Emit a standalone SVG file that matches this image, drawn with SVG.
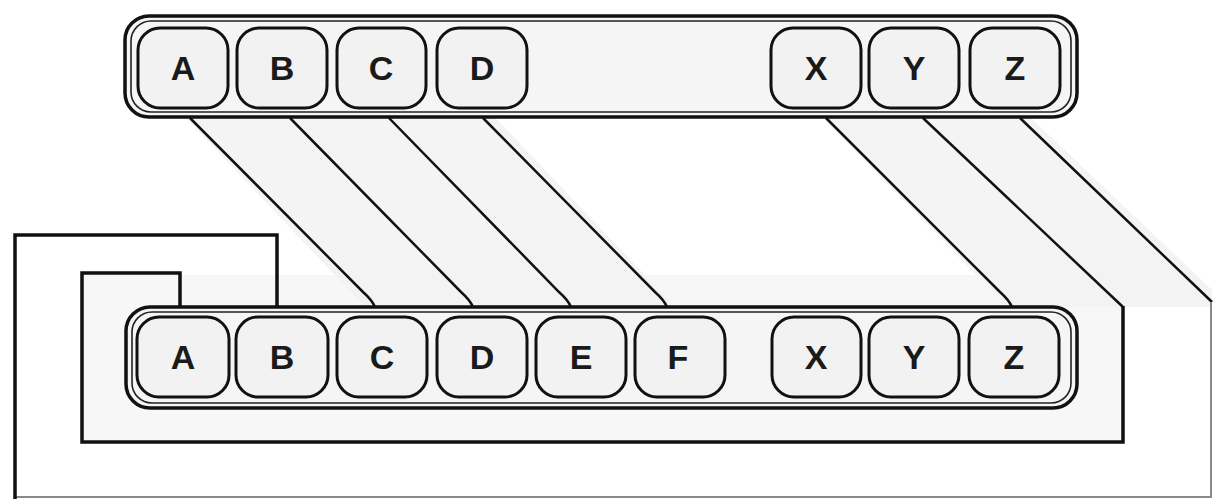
<svg xmlns="http://www.w3.org/2000/svg" width="1213" height="499" viewBox="0 0 1213 499">
  <style>
    .bar { fill: #f5f5f5; stroke: #111; stroke-width: 3.5; }
    .barin { fill: none; stroke: #222; stroke-width: 1.6; }
    .key { fill: #f2f2f2; stroke: #111; stroke-width: 3; }
    .lbl { font-family: "Liberation Sans", Arial, sans-serif; font-size: 34px; font-weight: bold; fill: #1a1a1a; text-anchor: middle; }
    .wire { fill: none; stroke: #111; stroke-width: 2.5; stroke-linejoin: miter; }
    .frame { fill: none; stroke: #111; stroke-width: 3.5; stroke-linejoin: miter; }
    .faint { fill: none; stroke: #8a8a8a; stroke-width: 2; }
  </style>
  <rect x="0" y="0" width="1213" height="499" fill="#ffffff"/>
  <g id="shading" fill="#efefef" stroke="none" opacity="0.7">
    <polygon points="185,117 495,117 675,307 365,307"/>
    <polygon points="822,117 1030,117 1212,290 1212,307 1008,307"/>
    <rect x="84" y="275" width="1037" height="165" opacity="0.6"/>
  </g>
  <g id="connectors">
    <path class="wire" d="M190,118 L363,292 Q372,300 375,307"/>
    <path class="wire" d="M290,118 L461,292 Q470,300 473,307"/>
    <path class="wire" d="M389,118 L559,292 Q568,300 571,307"/>
    <path class="wire" d="M483,118 L655,292 Q664,300 667,307"/>
    <path class="wire" d="M826,118 L1000,292 Q1009,300 1012,307"/>
    <path class="wire" d="M923,118 L1123,307"/>
    <path class="frame" d="M1123,306 L1123,442 L82,442 L82,273 L180,273 L180,307"/>
    <path class="wire" d="M1020,118 L1212,302"/>
    <path class="faint" d="M1211,302 L1211,497 L15,497"/>
    <path class="frame" d="M15,499 L15,235 L277,235 L277,307"/>
  </g>
  <g id="top-connector">
    <rect class="bar" x="125" y="16" width="952" height="101" rx="24"/>
    <rect class="barin" x="131" y="21" width="940" height="91" rx="20"/>
    <g id="top-A"><rect class="key" x="138" y="28" width="90" height="80" rx="22"/><text class="lbl" x="183" y="80">A</text></g>
    <g id="top-B"><rect class="key" x="237" y="28" width="90" height="80" rx="22"/><text class="lbl" x="282" y="80">B</text></g>
    <g id="top-C"><rect class="key" x="337" y="28" width="89" height="80" rx="22"/><text class="lbl" x="381" y="80">C</text></g>
    <g id="top-D"><rect class="key" x="437" y="28" width="90" height="80" rx="22"/><text class="lbl" x="482" y="80">D</text></g>
    <g id="top-X"><rect class="key" x="771" y="28" width="90" height="80" rx="22"/><text class="lbl" x="816" y="80" font-weight="normal">X</text></g>
    <g id="top-Y"><rect class="key" x="869" y="28" width="90" height="80" rx="22"/><text class="lbl" x="914" y="80">Y</text></g>
    <g id="top-Z"><rect class="key" x="970" y="28" width="90" height="80" rx="22"/><text class="lbl" x="1015" y="80">Z</text></g>
  </g>
  <g id="bottom-connector">
    <rect class="bar" x="126" y="307" width="951" height="101" rx="24"/>
    <rect class="barin" x="132" y="312" width="939" height="91" rx="20"/>
    <g id="bot-A"><rect class="key" x="137" y="317" width="92" height="80" rx="22"/><text class="lbl" x="183" y="369">A</text></g>
    <g id="bot-B"><rect class="key" x="236" y="317" width="92" height="80" rx="22"/><text class="lbl" x="282" y="369">B</text></g>
    <g id="bot-C"><rect class="key" x="337" y="317" width="90" height="80" rx="22"/><text class="lbl" x="382" y="369">C</text></g>
    <g id="bot-D"><rect class="key" x="437" y="317" width="90" height="80" rx="22"/><text class="lbl" x="482" y="369">D</text></g>
    <g id="bot-E"><rect class="key" x="536" y="317" width="90" height="80" rx="22"/><text class="lbl" x="581" y="369">E</text></g>
    <g id="bot-F"><rect class="key" x="635" y="317" width="90" height="80" rx="22"/><text class="lbl" x="678" y="369">F</text></g>
    <g id="bot-X"><rect class="key" x="772" y="317" width="89" height="80" rx="22"/><text class="lbl" x="816" y="369" font-weight="normal">X</text></g>
    <g id="bot-Y"><rect class="key" x="869" y="317" width="90" height="80" rx="22"/><text class="lbl" x="914" y="369">Y</text></g>
    <g id="bot-Z"><rect class="key" x="969" y="317" width="90" height="80" rx="22"/><text class="lbl" x="1014" y="369">Z</text></g>
  </g>
</svg>
